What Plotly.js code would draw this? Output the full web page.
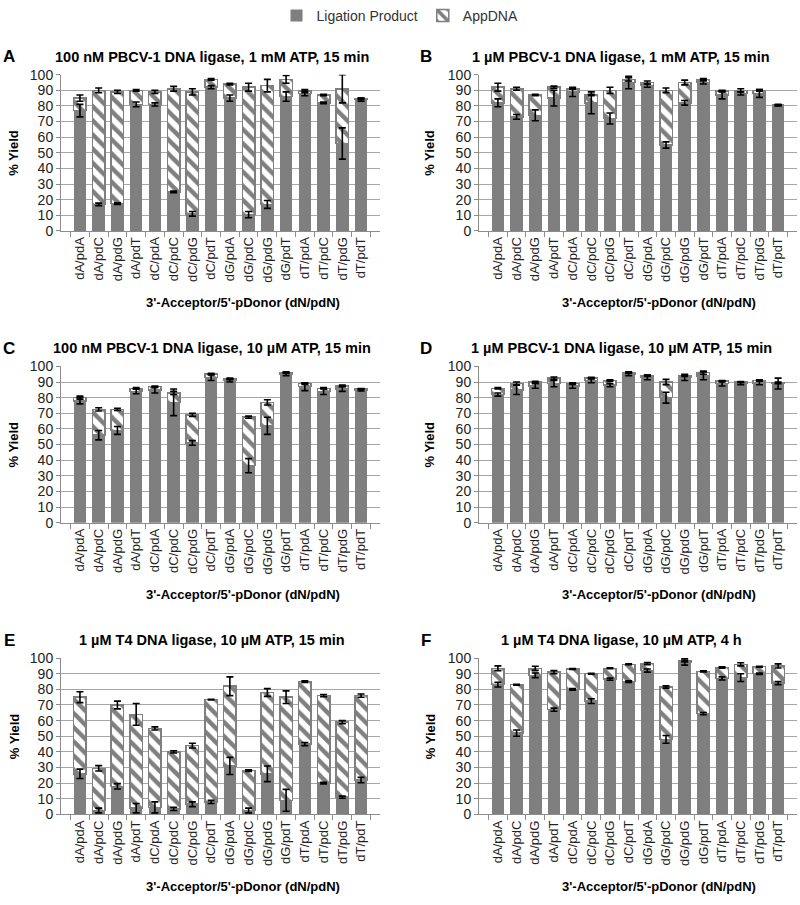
<!DOCTYPE html>
<html>
<head>
<meta charset="utf-8">
<script src="https://cdn.plot.ly/plotly-3.0.1.min.js"></script>
<style>html,body{margin:0;padding:0;background:#fff;}#chart{width:800px;height:905px;}</style>
</head>
<body>
<div id="chart"></div>
<script>
const categories = ['dA/pdA','dA/pdC','dA/pdG','dA/pdT','dC/pdA','dC/pdC','dC/pdG','dC/pdT',
                    'dG/pdA','dG/pdC','dG/pdG','dG/pdT','dT/pdA','dT/pdC','dT/pdG','dT/pdT'];

// Panel A
const ligA    = [77, 17, 17.5, 81, 81, 25, 11, 92, 85, 10.5, 17, 86, 88, 82, 56, 84];
const appA    = [8, 73, 71.5, 9, 8, 66, 78, 5, 9, 81.5, 76, 11, 1.5, 5, 35, 0.5];
const ligErrA = [4, 0.8, 0.5, 1.5, 1, 0.5, 1.5, 1, 2, 2, 2.5, 3, 1.5, 0.5, 10, 1];
const totErrA = [2, 1.5, 1, 0.5, 1, 1.5, 2, 0.5, 0.5, 2.5, 4, 2.5, 1, 0.5, 9, 0.5];
// Panel B
const ligB    = [82, 73, 74, 85, 89, 82, 72, 95, 93, 55, 82, 95, 87, 88, 88, 80.5];
const appB    = [10, 18, 13, 7, 2, 5, 18, 2, 2, 35, 13, 2, 2.5, 2, 2, 0];
const ligErrB = [2.5, 1.5, 3.5, 5, 3, 7, 3.5, 4, 1, 2, 1.5, 1, 2.5, 1, 2.5, 0.5];
const totErrB = [2.5, 1, 0.5, 0.7, 0.5, 0.5, 2, 1, 1, 1.5, 1.5, 0.5, 0.5, 1, 0.5, 0.3];
// Panel C
const ligC    = [78, 56, 59, 84, 85, 77, 51, 93, 91, 36.5, 62, 95, 87, 84, 85.5, 85];
const appC    = [2, 16.5, 13.5, 2, 2, 6, 18, 2, 1, 31, 15, 1, 2, 2, 2, 0.5];
const ligErrC = [2, 3, 2.5, 1.5, 2, 8.5, 1.5, 2, 1, 4.5, 5.5, 1, 2.5, 2, 1.5, 0.7];
const totErrC = [1, 1, 0.7, 0.5, 0.5, 1, 1, 0.5, 0.5, 0.7, 1.7, 0.5, 0.5, 0.5, 0.5, 0.3];
// Panel D
const ligD    = [82, 85, 87.5, 89, 87.5, 91, 88, 95, 93, 80, 93, 94, 89, 89, 89.5, 89];
const appD    = [4, 4, 2.5, 3.5, 1.5, 1.5, 3, 1, 1, 10, 1, 2, 1.5, 1, 1.5, 0.5];
const ligErrD = [1, 3, 1.5, 2, 1.5, 1.5, 1, 1, 1.5, 3.5, 2, 2.5, 1.5, 0.7, 1.2, 3.5];
const totErrD = [0.5, 1, 0.5, 0.7, 0.5, 0.5, 0.5, 0.5, 0.5, 1.7, 0.5, 1, 0.5, 0.3, 0.5, 0.5];
// Panel E
const ligE    = [26, 2.5, 18, 4, 4.5, 3.5, 6.5, 8, 31, 2.5, 26, 9, 45, 20, 11, 22];
const appE    = [49, 27, 52, 60, 50.5, 36.5, 37.5, 65.5, 51, 25.5, 52, 66, 40, 56, 48, 54];
const ligErrE = [3, 1.5, 1.7, 3, 3.5, 1, 1.5, 1, 5.5, 1.5, 5, 7, 1, 0.5, 0.7, 1.7];
const totErrE = [3.5, 1.7, 2.5, 7, 1, 0.7, 1.5, 0.2, 6, 0.5, 2.5, 4, 0.5, 0.7, 1, 1];
// Panel F
const ligF    = [83, 52, 89, 67, 80, 72.5, 86.5, 85, 92, 48, 97.5, 64.5, 87, 87.5, 90, 84];
const appF    = [10.5, 31, 4.5, 24, 13, 17.5, 7, 11, 4.5, 33.5, 0.5, 27, 7, 8.5, 4.5, 11];
const ligErrF = [1.5, 2, 1.5, 1, 0.5, 1.5, 0.7, 0.5, 1, 2.5, 2, 0.7, 1, 2.5, 0.5, 1];
const totErrF = [1.5, 0.3, 1.3, 1, 0.3, 0.3, 0.3, 0.3, 0.7, 0.7, 0.5, 0.3, 0.5, 1, 0.3, 1.3];

const panelLetters = ['A','B','C','D','E','F'];
const panelTitles = [
  '100 nM PBCV-1 DNA ligase, 1 mM ATP, 15 min',
  '1 µM PBCV-1 DNA ligase, 1 mM ATP, 15 min',
  '100 nM PBCV-1 DNA ligase, 10 µM ATP, 15 min',
  '1 µM PBCV-1 DNA ligase, 10 µM ATP, 15 min',
  '1 µM T4 DNA ligase, 10 µM ATP, 15 min',
  '1 µM T4 DNA ligase, 10 µM ATP, 4 h'
];
const seriesNames = ['Ligation Product', 'AppDNA'];
const yTitle = '% Yield';
const xTitle = "3'-Acceptor/5'-pDonor (dN/pdN)";

const panels = [
  [ligA, appA, ligErrA, totErrA],
  [ligB, appB, ligErrB, totErrB],
  [ligC, appC, ligErrC, totErrC],
  [ligD, appD, ligErrD, totErrD],
  [ligE, appE, ligErrE, totErrE],
  [ligF, appF, ligErrF, totErrF]
];

const W = 800, H = 905;
const colX = [[61, 380], [479, 797]];
const rowY = [[71, 228], [364, 521], [657, 814]];
const FONT = 'Liberation Sans, Arial, sans-serif';
const GREY = '#7f7f7f';

const data = [];
const layout = {
  width: W, height: H,
  margin: {l: 0, r: 0, t: 0, b: 0},
  paper_bgcolor: '#fff', plot_bgcolor: '#fff',
  barmode: 'stack', bargap: 0.33,
  showlegend: true,
  legend: {orientation: 'h', x: 0.5, xanchor: 'center', y: 1 - 12/H, yanchor: 'middle',
           font: {family: FONT, size: 14, color: '#333'}, itemwidth: 30, traceorder: 'normal'},
  font: {family: FONT, color: '#222'},
  annotations: []
};

panels.forEach((p, i) => {
  const [lig, app, ligErr, totErr] = p;
  const col = i % 2, row = Math.floor(i / 2);
  const sfx = i === 0 ? '' : String(i + 1);
  const xa = 'x' + sfx, ya = 'y' + sfx;
  const tot = lig.map((v, k) => v + app[k]);
  data.push({
    type: 'bar', x: categories, y: lig, xaxis: xa, yaxis: ya, name: seriesNames[0],
    legendgroup: 'lig', showlegend: i === 0,
    marker: {color: GREY, line: {width: 0}}, hoverinfo: 'skip'
  });
  data.push({
    type: 'bar', x: categories, y: app, xaxis: xa, yaxis: ya, name: seriesNames[1],
    legendgroup: 'app', showlegend: i === 0,
    marker: {color: '#fff', line: {color: GREY, width: 1.5},
             pattern: {shape: '\\', fgcolor: GREY, bgcolor: '#fff', size: 10, solidity: 0.45}},
    hoverinfo: 'skip'
  });
  data.push({
    type: 'scatter', mode: 'markers', x: categories, y: lig, xaxis: xa, yaxis: ya,
    marker: {size: 1, opacity: 0}, showlegend: false, hoverinfo: 'skip',
    error_y: {type: 'data', array: ligErr, visible: true, color: '#000', thickness: 1.6, width: 3.5}
  });
  data.push({
    type: 'scatter', mode: 'markers', x: categories, y: tot, xaxis: xa, yaxis: ya,
    marker: {size: 1, opacity: 0}, showlegend: false, hoverinfo: 'skip',
    error_y: {type: 'data', array: totErr, visible: true, color: '#000', thickness: 1.6, width: 3.5}
  });
  const [x0, x1] = colX[col], [yt, yb] = rowY[row];
  layout['xaxis' + sfx] = {
    domain: [x0 / W, x1 / W], anchor: ya, type: 'category',
    showline: true, linecolor: '#8c8c8c', linewidth: 1,
    ticks: 'outside', tickson: 'boundaries', ticklen: 5, tickcolor: '#8c8c8c',
    tickangle: -90, tickfont: {family: FONT, size: 13, color: '#222'},
    showgrid: false, zeroline: false, fixedrange: true
  };
  layout['yaxis' + sfx] = {
    domain: [1 - yb / H, 1 - yt / H], anchor: xa, range: [0, 100], dtick: 10,
    showline: true, linecolor: '#8c8c8c', linewidth: 1,
    ticks: 'outside', ticklen: 4, tickcolor: '#8c8c8c',
    tickfont: {family: FONT, size: 14, color: '#222'},
    showgrid: true, gridcolor: '#a6a6a6', gridwidth: 1, zeroline: false, fixedrange: true
  };
  const letterX = col === 0 ? 9 : 426;
  const titleX = col === 0 ? 212 : 621;
  const titleY = yt - 18;
  layout.annotations.push({xref: 'paper', yref: 'paper', x: letterX / W, y: 1 - titleY / H,
    text: '<b>' + panelLetters[i] + '</b>', showarrow: false, xanchor: 'center', yanchor: 'middle',
    font: {family: FONT, size: 17, color: '#000'}});
  layout.annotations.push({xref: 'paper', yref: 'paper', x: titleX / W, y: 1 - titleY / H,
    text: '<b>' + panelTitles[i] + '</b>', showarrow: false, xanchor: 'center', yanchor: 'middle',
    font: {family: FONT, size: 14.5, color: '#000'}});
  layout.annotations.push({xref: 'paper', yref: 'paper', x: (col === 0 ? 14 : 430) / W,
    y: 1 - ((yt + yb) / 2) / H, text: '<b>' + yTitle + '</b>', textangle: -90, showarrow: false,
    xanchor: 'center', yanchor: 'middle', font: {family: FONT, size: 13, color: '#000'}});
  layout.annotations.push({xref: 'paper', yref: 'paper', x: (col === 0 ? 243 : 659) / W,
    y: 1 - (yb + 72) / H, text: '<b>' + xTitle + '</b>', showarrow: false,
    xanchor: 'center', yanchor: 'middle', font: {family: FONT, size: 13, color: '#000'}});
});

Plotly.newPlot('chart', data, layout, {staticPlot: true, displayModeBar: false});
</script>
</body>
</html>
